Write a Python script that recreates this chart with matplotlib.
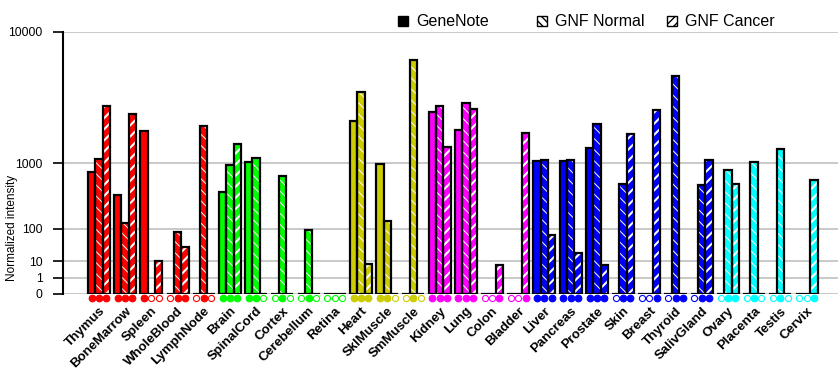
import numpy as np
import matplotlib
matplotlib.use("Agg")
import matplotlib.pyplot as plt
import matplotlib.transforms as mtransforms
from matplotlib.patches import Rectangle

plt.rcParams['font.family'] = ['Liberation Sans', 'DejaVu Sans']

# Tissues and their colour group
tissues = ["Thymus", "BoneMarrow", "Spleen", "WholeBlood", "LymphNode",
           "Brain", "SpinalCord", "Cortex", "Cerebellum", "Retina",
           "Heart", "SklMuscle", "SmMuscle",
           "Kidney", "Lung", "Colon", "Bladder",
           "Liver", "Pancreas", "Prostate", "Skin", "Breast", "Thyroid", "SalivGland",
           "Ovary", "Placenta", "Testis", "Cervix"]
tissue_colors = (["#FF0000"] * 5 + ["#00FF00"] * 5 + ["#CCCC00"] * 3 +
                 ["#FF00FF"] * 4 + ["#0000FF"] * 7 + ["#00FFFF"] * 4)

# Normalized intensity per source
genenote = [800, 400, 2050, 0, 0, 440, 1035, 0, 0, 0, 2500, 975, 0, 2970,
            2100, 0, 0, 1060, 1060, 1430, 0, 0, 0, 0, 0, 0, 0, 0]
gnf_normal = [1100, 130, 0, 84, 2280, 950, 1130, 700, 92, 0, 4200, 142, 6900, 3300,
              3480, 0, 0, 1090, 1090, 2390, 566, 0, 5400, 543, 832, 1025, 1400, 0]
gnf_cancer = [3300, 2870, 10.5, 34, 0, 1580, 0, 0, 0, 0, 7.4, 0, 0, 1460,
              3150, 6.9, 1990, 69, 21.5, 6.9, 1940, 3080, 0, 1075, 561, 0, 0, 638]

# present (1) / absent (0) calls shown as markers under each bar
call_genenote = [1, 1, 1, 0, 0, 1, 1, 0, 0, 0, 1, 1, 0, 1, 1, 0, 0, 1, 1, 1, 0, 0, 0, 0, 0, 0, 0, 0]
call_normal = [1, 1, 0, 1, 1, 1, 1, 1, 1, 0, 1, 1, 1, 1, 1, 0, 0, 1, 1, 1, 1, 0, 1, 1, 1, 1, 1, 0]
call_cancer = [1, 1, 0, 1, 0, 1, 0, 0, 0, 0, 1, 0, 0, 1, 1, 1, 1, 1, 1, 1, 1, 1, 1, 1, 1, 0, 0, 1]

yticks = [0, 1, 10, 100, 1000, 10000]
p = np.log10(2)


def fwd(v):
    v = np.asarray(v, dtype=float)
    return np.sign(v) * np.abs(v) ** p


def inv(v):
    v = np.asarray(v, dtype=float)
    return np.sign(v) * np.abs(v) ** (1 / p)


def hatch_lw(bars, lw):
    # per-bar hatch line width (falls back to rcParams if unsupported)
    for b in bars:
        if hasattr(b, 'set_hatch_linewidth'):
            b.set_hatch_linewidth(lw)


fig = plt.figure(figsize=(8.4, 3.85), dpi=100)
ax = fig.add_axes([63 / 840, 91 / 385, 775 / 840, 262 / 385])
ax.set_yscale('function', functions=(fwd, inv))

x = np.arange(len(tissues))
w = 0.28
series = [(genenote, call_genenote, -w), (gnf_normal, call_normal, 0), (gnf_cancer, call_cancer, w)]

for k, (vals, calls, off) in enumerate(series):
    for i in range(len(tissues)):
        c = tissue_colors[i]
        if k == 0:
            ax.bar(x[i] + off, vals[i], w, color=c, linewidth=0, zorder=3)
        elif k == 1:
            with plt.rc_context({'hatch.linewidth': 0.7}):
                b = ax.bar(x[i] + off, vals[i], w, color=c, edgecolor='white',
                           hatch='\\\\\\', linewidth=0, zorder=3)
                hatch_lw(b, 0.7)
        else:
            with plt.rc_context({'hatch.linewidth': 1.5}):
                b = ax.bar(x[i] + off, vals[i], w, color=c, edgecolor='white',
                           hatch='///', linewidth=0, zorder=3)
                hatch_lw(b, 1.5)
        ax.bar(x[i] + off, vals[i], w, fill=False, edgecolor='black', linewidth=1.6, zorder=4)

# markers below bars
trans = mtransforms.blended_transform_factory(ax.transData, ax.transAxes)
for vals, calls, off in series:
    for i in range(len(tissues)):
        c = tissue_colors[i]
        if calls[i]:
            ax.plot(x[i] + off, -0.017, marker='o', ms=4.8, mfc=c, mec=c, mew=0.8,
                    transform=trans, clip_on=False, zorder=5)
        else:
            ax.plot(x[i] + off, -0.017, marker='o', ms=4.4, mfc='white', mec=c, mew=0.8,
                    transform=trans, clip_on=False, zorder=5)

ax.set_xlim(-1.37, 28.2)
ax.set_ylim(0, 10000)
ax.set_yticks(yticks)
ax.set_yticklabels([str(t) for t in yticks], fontsize=8.8)
ax.yaxis.grid(True, color='#C0C0C0', linewidth=1.2, zorder=0)
ax.set_axisbelow(True)
ax.tick_params(axis='y', length=7, width=1.2, pad=7.5)
ax.tick_params(axis='x', length=0, pad=8)
ax.set_xticks(x)
ax.set_xticklabels(tissues, rotation=45, ha='right', rotation_mode='anchor',
                   fontsize=9.5, fontweight='bold')
for s in ['top', 'right', 'bottom']:
    ax.spines[s].set_visible(False)
ax.spines['left'].set_linewidth(1.5)

fig.text(12 / 840, 1 - 228 / 385, "Normalized intensity", rotation=90,
         ha='center', va='center', fontsize=8.5)

# legend
leg = [("GeneNote", 398, dict(facecolor='black', edgecolor='black')),
       ("GNF Normal", 537, dict(facecolor='white', edgecolor='black', hatch='\\\\\\\\')),
       ("GNF Cancer", 667, dict(facecolor='white', edgecolor='black', hatch='////'))]
for label, px, kw in leg:
    fig.patches.append(Rectangle((px / 840, 1 - 26 / 385), 10 / 840, 10 / 385,
                                 transform=fig.transFigure, linewidth=1, **kw))
    fig.text((px + 18) / 840, 1 - 21 / 385, label, ha='left', va='center',
             fontsize=11.5)

fig.savefig("out.png", dpi=100)
